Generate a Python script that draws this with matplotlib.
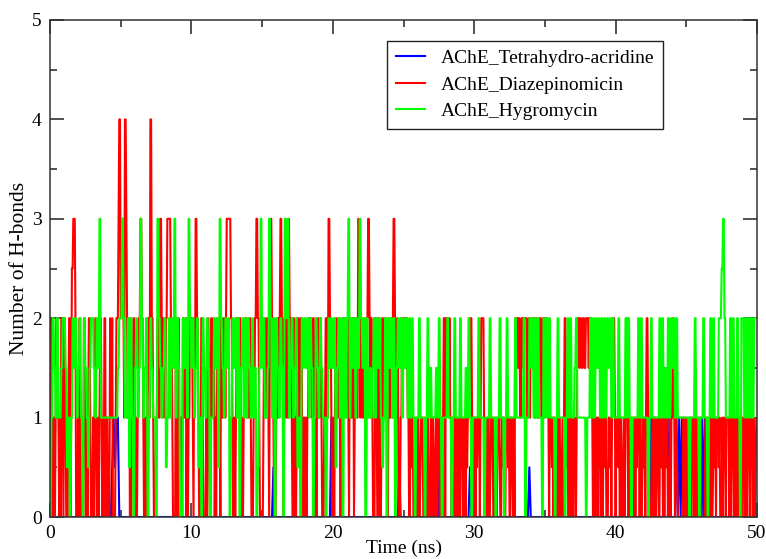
import numpy as np
import matplotlib
matplotlib.use("Agg")
import matplotlib.pyplot as plt

# H-bond counts, in half units (value = digit / 2)
# red and green: one string per ns, 0.05 ns per char
red_ns = [
    "22402020244220204420", "44200024402556664000", "20402020442020244200",
    "02024200202442020440", "22000422400002444688", "44664288642240002244",
    "20202244664420202244", "42884420002244226642", "44224466666442000040",
    "22402020442240202244", "44204266442000442000", "02024200442240202442",
    "20442244246666664420", "02024422442020224442", "22442000224466442000",
    "00244224420466442000", "22442466440244224264", "44204402024422444020",
    "20202244442244202044", "22442000224422664420", "02024422442020442244",
    "44204422440244226642", "44224420446642442000", "44204402024422442204",
    "22442466442240002244", "44434422002212001020", "22001222002100220102",
    "02200120222002202440", "44342422002120022012", "02120022021222444202",
    "02021222024444220020", "20012220021202221002", "12200222120022102044",
    "44344224434444422432", "44334422442244422442", "44342202221202200120",
    "22001202442120022020", "21200244434433443344", "44344422012002202120",
    "20022120002212024442", "02221202200120224202", "20120022021222020012",
    "12024420000120022012", "20022120202212000202", "24420221000000002020",
    "12002202120022020212", "20000002202120022012", "12022212000202120222",
    "20202120022012022202", "12002202120222020012", "2",
]
green_ns = [
    "00224433224422223344", "44331122002244334422", "33442200443322113344",
    "44332244336622222222", "22222222222222223344", "44664422224411442200",
    "33442233664422334400", "22443322220066443322", "33441122442244336622",
    "44330000443344226644", "33442233441122004433", "22443300222244334411",
    "66443322443344002244", "33442244003344224422", "44332244223300113366",
    "33442222336644224400", "44332244330066446622", "33442233441122004433",
    "44334422443300224433", "22443322220022443344", "33441133442244004422",
    "44662244334422443366", "44334400442233223344", "22443344221122440044",
    "33442244003344334422", "44334422442244220022", "22442222220022442233",
    "22222233224422002222", "22442222002244222222", "44222222332244220022",
    "22222244222222002222", "22442222220022224422", "22002244222222222244",
    "22222222224400222244", "33442244224422220044", "22442244222222002244",
    "22222222002244224422", "22334422222222222200", "22224422442244334422",
    "44224422443344224422", "22224422222222442244", "22002222222244224422",
    "22222200224422222222", "22442244223322442244", "33442244222222222222",
    "22220022222244222200", "22224422220022442244", "22222244445566442222",
    "22442244222244220044", "44224422442244224444", "4",
]
# blue: 0.1 ns per char
blue_ns = [
    "0220000000", "0000000000", "0000000000", "0000000000", "0000121220",
    "0000000000", "0000000000", "0000000000", "0000000000", "0000000000",
    "0000000000", "0000000000", "0000000000", "0000000000", "0000000000",
    "0000000010", "0000000000", "0000000000", "0000000000", "0000000002",
    "0000000000", "0000000000", "0000000000", "0000000000", "0000000100",
    "0000000000", "0000000000", "1000100000", "0000020000", "0000000100",
    "1000000000", "0000000000", "0000000000", "0000000001", "0000000000",
    "0000000101", "0000000000", "0000000000", "0000000000", "0000000000",
    "0000000000", "0000000000", "0000020200", "0000000020", "0002020200",
    "0000000000", "0202000000", "0000000000", "0000000000", "0000000000",
    "0",
]

labels = ["AChE_Tetrahydro-acridine", "AChE_Diazepinomicin", "AChE_Hygromycin"]
colors = ["#0000ff", "#ff0000", "#00ff00"]


def decode(chunks):
    s = "".join(chunks)
    return np.array([int(c) for c in s]) / 2.0


series = [decode(blue_ns), decode(red_ns), decode(green_ns)]

plt.rcParams['font.family'] = ['Liberation Serif', 'DejaVu Serif']

fig = plt.figure(figsize=(7.66, 5.59), dpi=100)
ax = fig.add_axes([50 / 766, 42 / 559, 707 / 766, 497 / 559])

for vals, lab, col in zip(series, labels, colors):
    t = np.linspace(0, 50, len(vals))
    ax.plot(t, vals, color=col, lw=1.5, label=lab)

ax.set_xlim(0, 50)
ax.set_ylim(0, 5)
ax.set_xticks([0, 10, 20, 30, 40, 50])
ax.set_xticks([5, 15, 25, 35, 45], minor=True)
ax.set_yticks([0, 1, 2, 3, 4, 5])
ax.set_yticks([0.5, 1.5, 2.5, 3.5, 4.5], minor=True)
ax.set_axisbelow(True)
ax.tick_params(which='both', direction='in', top=True, right=True,
               width=1.1, color='#222222', labelsize=14)
ax.tick_params(which='major', length=10, pad=6)
ax.tick_params(which='minor', length=5)
for sp in ax.spines.values():
    sp.set_linewidth(1.1)
    sp.set_color('#333333')

ax.set_xlabel("Time (ns)", fontsize=14, labelpad=-2)
ax.set_ylabel("Number of H-bonds", fontsize=15.5, labelpad=2)

leg = ax.legend(loc='upper left', bbox_to_anchor=(0.4767, 0.958), fontsize=14,
                frameon=True, fancybox=False, framealpha=1, edgecolor='#222222',
                handlelength=1.5, handletextpad=0.8, labelspacing=0.45,
                borderpad=0.45, borderaxespad=0)
leg.get_frame().set_linewidth(1.0)

fig.savefig("out.png", dpi=100)
